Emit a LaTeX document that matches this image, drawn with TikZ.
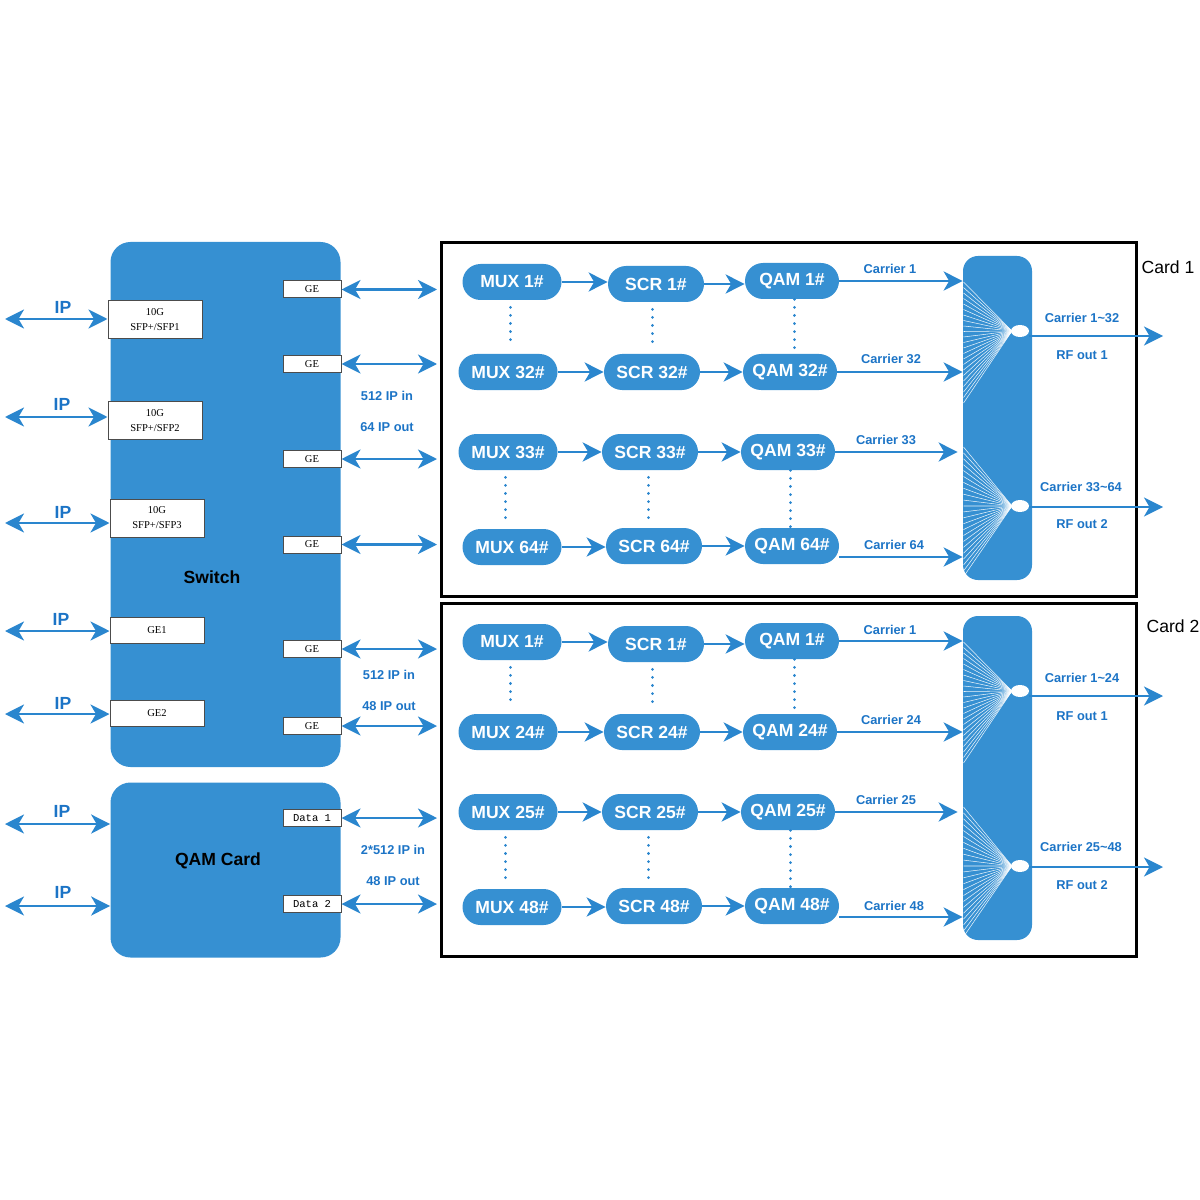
\documentclass[tikz,border=0pt]{standalone}
\usepackage{fontspec}
\setmainfont{Liberation Sans}
\newfontfamily\portfont{Liberation Serif}
\newfontfamily\datafont{Liberation Mono}
\usetikzlibrary{arrows.meta,shapes.geometric}
\definecolor{boxblue}{RGB}{54,144,210}
\definecolor{lineblue}{RGB}{42,134,206}
\definecolor{textblue}{RGB}{28,116,198}
\tikzset{
	>={Stealth[length=3.8mm,width=3.8mm,inset=1.1mm]},
	cardbox/.style={fill=boxblue, rounded corners=4mm, minimum width=46mm, inner sep=0pt},
	block/.style={fill=boxblue, rounded corners=3.6mm, minimum height=7.2mm, inner sep=0pt, text=white, font=\fontsize{10}{12}\selectfont\bfseries},
	muxblock/.style={block, minimum width=19.8mm},
	scrblock/.style={block, minimum width=19.2mm},
	qamblock/.style={block, minimum width=18.8mm},
	port/.style={draw=black!70, line width=0.2mm, fill=white, inner sep=0pt, align=center, font=\portfont\fontsize{6}{8.5}\selectfont},
	sfpport/.style={port, minimum width=18.8mm, minimum height=7.6mm},
	geport/.style={port, minimum width=18.8mm, minimum height=5.2mm},
	gesmall/.style={port, minimum width=11.6mm, minimum height=3.4mm},
	sig/.style={draw=lineblue, line width=0.5mm, ->},
	bisig/.style={draw=lineblue, line width=0.5mm, <->},
	vdots/.style={draw=lineblue, line width=0.6mm, line cap=round, dash pattern=on 0.01mm off 1.6mm},
	lbl/.style={text=textblue, font=\fontsize{7.3}{8}\selectfont\bfseries},
	iplbl/.style={text=textblue, font=\fontsize{10}{12}\selectfont\bfseries},
	title/.style={text=black, font=\fontsize{10}{12}\selectfont\bfseries},
	cardlbl/.style={text=black, font=\fontsize{10}{12}\selectfont},
	frame/.style={draw=black, line width=0.6mm, minimum width=139mm, minimum height=70.6mm, inner sep=0pt},
	combiner/.style={fill=boxblue, rounded corners=3mm, minimum width=13.8mm, minimum height=64.8mm, inner sep=0pt},
	outlet/.style={ellipse, fill=white, minimum width=3.6mm, minimum height=2.4mm, inner sep=0pt},
	fan/.style={draw=white, line width=0.3pt, opacity=0.9}
}

\begin{document}
\begin{tikzpicture}[x=0.2mm, y=-0.2mm]
			%%%%% START %%%%%
			\useasboundingbox (0,0) rectangle (1200,1200);
			
			% switch and qam card
			\node[cardbox, minimum height=105mm] (switch) at (225.5,504.5) {};
			\node[title] (switchlbl) at (212,577) {Switch};
			\node[cardbox, minimum height=35mm] (qamcard) at (225.5,870) {};
			\node[title] (qamcardlbl) at (218,861) {QAM Card};
			
			% input ports
			\node[sfpport] (sfp1) at (155,319.5) {10G\\SFP+/SFP1};
			\node[sfpport] (sfp2) at (155,420.5) {10G\\SFP+/SFP2};
			\node[sfpport] (sfp3) at (157,518) {10G\\SFP+/SFP3};
			\node[geport] (ge1) at (157,630) {GE1};
			\node[geport] (ge2) at (157,713.5) {GE2};
			
			\coordinate (ipa) at (5,319);
			\coordinate (ipb) at (5,417);
			\coordinate (ipc) at (5,523);
			\coordinate (ipd) at (5,631);
			\coordinate (ipe) at (5,714);
			\coordinate (ipf) at (5,824);
			\coordinate (ipg) at (5,906);
			\draw[bisig] (ipa) -- (ipa -| sfp1.west);
			\draw[bisig] (ipb) -- (ipb -| sfp2.west);
			\draw[bisig] (ipc) -- (ipc -| sfp3.west);
			\draw[bisig] (ipd) -- (ipd -| ge1.west);
			\draw[bisig] (ipe) -- (ipe -| ge2.west);
			\draw[bisig] (ipf) -- (ipf -| qamcard.west);
			\draw[bisig] (ipg) -- (ipg -| qamcard.west);
			\node[iplbl] (ipla) at (63,307) {IP};
			\node[iplbl] (iplb) at (62,404) {IP};
			\node[iplbl] (iplc) at (63,512) {IP};
			\node[iplbl] (ipld) at (61,619) {IP};
			\node[iplbl] (iple) at (63,703) {IP};
			\node[iplbl] (iplf) at (62,811) {IP};
			\node[iplbl] (iplg) at (63,892) {IP};
			
			% output ports
			\node[gesmall] (gea) at (312,289.5) {GE};
			\node[gesmall] (geb) at (312,364) {GE};
			\node[gesmall] (gec) at (312,459) {GE};
			\node[gesmall] (ged) at (312,544.5) {GE};
			\node[gesmall] (gee) at (312,649) {GE};
			\node[gesmall] (gef) at (312,726) {GE};
			\node[gesmall, font=\datafont\fontsize{6}{7}\selectfont] (data1) at (312,818) {Data 1};
			\node[gesmall, font=\datafont\fontsize{6}{7}\selectfont] (data2) at (312,904) {Data 2};
			
			\coordinate (toa) at (437,289.5);
			\coordinate (tob) at (437,364);
			\coordinate (toc) at (437,459);
			\coordinate (tod) at (437,544.5);
			\coordinate (toe) at (437,649);
			\coordinate (tof) at (437,726);
			\coordinate (tog) at (437,818);
			\coordinate (toh) at (437,904);
			\draw[bisig] (gea) -- (toa);
			\draw[bisig] (geb) -- (tob);
			\draw[bisig] (gec) -- (toc);
			\draw[bisig] (ged) -- (tod);
			\draw[bisig] (gee) -- (toe);
			\draw[bisig] (gef) -- (tof);
			\draw[bisig] (data1) -- (tog);
			\draw[bisig] (data2) -- (toh);
			
			\node[lbl] (ina) at (387,396) {512 IP in};
			\node[lbl] (outa) at (387,427) {64 IP out};
			\node[lbl] (inb) at (389,675) {512 IP in};
			\node[lbl] (outb) at (389,706) {48 IP out};
			\node[lbl] (inc) at (393,850) {2*512 IP in};
			\node[lbl] (outc) at (393,881) {48 IP out};
			
			%%%%% CARD 1 %%%%%
			\node[frame] (card1) at (788.5,419.5) {};
			\node[cardlbl] (card1lbl) at (1168,267) {Card 1};
			
			\node[muxblock] (muxA) at (512,282) {MUX 1\#};
			\node[scrblock] (scrA) at (656,284) {SCR 1\#};
			\node[qamblock] (qamA) at (792,281) {QAM 1\#};
			\node[muxblock] (muxB) at (508,372) {MUX 32\#};
			\node[scrblock] (scrB) at (652,372) {SCR 32\#};
			\node[qamblock] (qamB) at (790,372) {QAM 32\#};
			\node[muxblock] (muxC) at (508,452) {MUX 33\#};
			\node[scrblock] (scrC) at (650,452) {SCR 33\#};
			\node[qamblock] (qamC) at (788,452) {QAM 33\#};
			\node[muxblock] (muxD) at (512,547) {MUX 64\#};
			\node[scrblock] (scrD) at (654,546) {SCR 64\#};
			\node[qamblock] (qamD) at (792,546) {QAM 64\#};
			
			\draw[sig] (muxA.east) -- (muxA.east -| scrA.west);
			\draw[sig] (scrA.east) -- (scrA.east -| qamA.west);
			\draw[sig] (muxB.east) -- (muxB.east -| scrB.west);
			\draw[sig] (scrB.east) -- (scrB.east -| qamB.west);
			\draw[sig] (muxC.east) -- (muxC.east -| scrC.west);
			\draw[sig] (scrC.east) -- (scrC.east -| qamC.west);
			\draw[sig] (muxD.east) -- (muxD.east -| scrD.west);
			\draw[sig] (scrD.east) -- (scrD.east -| qamD.west);
			
			\draw[vdots, shorten <=1.4mm, shorten >=1.4mm] ([xshift=-0.4mm]muxA.south) -- ([xshift=-0.4mm]muxA.south |- muxB.north);
			\draw[vdots, shorten <=1.4mm, shorten >=1.4mm] ([xshift=-0.8mm]scrA.south) -- ([xshift=-0.8mm]scrA.south |- scrB.north);
			\draw[vdots] ([xshift=0.4mm]qamA.south) -- ([xshift=0.4mm]qamA.south |- qamB.north);
			\draw[vdots, shorten <=1.4mm, shorten >=1.4mm] ([xshift=-0.6mm]muxC.south) -- ([xshift=-0.6mm]muxC.south |- muxD.north);
			\draw[vdots, shorten <=1.4mm, shorten >=1.4mm] ([xshift=-0.4mm]scrC.south) -- ([xshift=-0.4mm]scrC.south |- scrD.north);
			\draw[vdots] ([xshift=0.4mm]qamC.south) -- ([xshift=0.4mm]qamC.south |- qamD.north);
			
			\node[combiner] (comb1) at (997.5,418) {};
			\foreach \k in {0,...,22} \draw[fan] (1012,331) -- (963.5,{282+\k*5.5});
			\foreach \k in {0,...,22} \draw[fan] (1012,506) -- (963.5,{447+\k*5.9});
			\node[outlet] (out1a) at (1020,331) {};
			\node[outlet] (out1b) at (1020,506) {};
			
			\coordinate (cD) at ([yshift=-2.2mm]qamD.east);
			\draw[sig] (qamA.east) -- (qamA.east -| comb1.west);
			\draw[sig] (qamB.east) -- (qamB.east -| comb1.west);
			\draw[sig] (qamC.east) -- ([xshift=-1mm]qamC.east -| comb1.west);
			\draw[sig] (cD) -- (cD -| comb1.west);
			\node[lbl] (car1) at (890,269) {Carrier 1};
			\node[lbl] (car32) at (891,359) {Carrier 32};
			\node[lbl] (car33) at (886,440) {Carrier 33};
			\node[lbl] (car64) at (894,545) {Carrier 64};
			
			\coordinate (rf1a) at (1163,336);
			\coordinate (rf1b) at (1163,507);
			\draw[sig] (out1a.east |- rf1a) -- (rf1a);
			\draw[sig] (out1b.east |- rf1b) -- (rf1b);
			\node[lbl] (sum1a) at (1082,318) {Carrier 1\textasciitilde 32};
			\node[lbl] (rfl1a) at (1082,355) {RF out 1};
			\node[lbl] (sum1b) at (1081,487) {Carrier 33\textasciitilde 64};
			\node[lbl] (rfl1b) at (1082,524) {RF out 2};
			
			%%%%% CARD 2 %%%%%
			\node[frame] (card2) at (788.5,780) {};
			\node[cardlbl] (card2lbl) at (1173,626) {Card 2};
			
			\node[muxblock] (muxE) at (512,642) {MUX 1\#};
			\node[scrblock] (scrE) at (656,644) {SCR 1\#};
			\node[qamblock] (qamE) at (792,641) {QAM 1\#};
			\node[muxblock] (muxF) at (508,732) {MUX 24\#};
			\node[scrblock] (scrF) at (652,732) {SCR 24\#};
			\node[qamblock] (qamF) at (790,732) {QAM 24\#};
			\node[muxblock] (muxG) at (508,812) {MUX 25\#};
			\node[scrblock] (scrG) at (650,812) {SCR 25\#};
			\node[qamblock] (qamG) at (788,812) {QAM 25\#};
			\node[muxblock] (muxH) at (512,907) {MUX 48\#};
			\node[scrblock] (scrH) at (654,906) {SCR 48\#};
			\node[qamblock] (qamH) at (792,906) {QAM 48\#};
			
			\draw[sig] (muxE.east) -- (muxE.east -| scrE.west);
			\draw[sig] (scrE.east) -- (scrE.east -| qamE.west);
			\draw[sig] (muxF.east) -- (muxF.east -| scrF.west);
			\draw[sig] (scrF.east) -- (scrF.east -| qamF.west);
			\draw[sig] (muxG.east) -- (muxG.east -| scrG.west);
			\draw[sig] (scrG.east) -- (scrG.east -| qamG.west);
			\draw[sig] (muxH.east) -- (muxH.east -| scrH.west);
			\draw[sig] (scrH.east) -- (scrH.east -| qamH.west);
			
			\draw[vdots, shorten <=1.4mm, shorten >=1.4mm] ([xshift=-0.4mm]muxE.south) -- ([xshift=-0.4mm]muxE.south |- muxF.north);
			\draw[vdots, shorten <=1.4mm, shorten >=1.4mm] ([xshift=-0.8mm]scrE.south) -- ([xshift=-0.8mm]scrE.south |- scrF.north);
			\draw[vdots] ([xshift=0.4mm]qamE.south) -- ([xshift=0.4mm]qamE.south |- qamF.north);
			\draw[vdots, shorten <=1.4mm, shorten >=1.4mm] ([xshift=-0.6mm]muxG.south) -- ([xshift=-0.6mm]muxG.south |- muxH.north);
			\draw[vdots, shorten <=1.4mm, shorten >=1.4mm] ([xshift=-0.4mm]scrG.south) -- ([xshift=-0.4mm]scrG.south |- scrH.north);
			\draw[vdots] ([xshift=0.4mm]qamG.south) -- ([xshift=0.4mm]qamG.south |- qamH.north);
			
			\node[combiner] (comb2) at (997.5,778) {};
			\foreach \k in {0,...,22} \draw[fan] (1012,691) -- (963.5,{642+\k*5.5});
			\foreach \k in {0,...,22} \draw[fan] (1012,866) -- (963.5,{807+\k*5.9});
			\node[outlet] (out2a) at (1020,691) {};
			\node[outlet] (out2b) at (1020,866) {};
			
			\coordinate (cH) at ([yshift=-2.2mm]qamH.east);
			\draw[sig] (qamE.east) -- (qamE.east -| comb2.west);
			\draw[sig] (qamF.east) -- (qamF.east -| comb2.west);
			\draw[sig] (qamG.east) -- ([xshift=-1mm]qamG.east -| comb2.west);
			\draw[sig] (cH) -- (cH -| comb2.west);
			\node[lbl] (car1b) at (890,630) {Carrier 1};
			\node[lbl] (car24) at (891,720) {Carrier 24};
			\node[lbl] (car25) at (886,800) {Carrier 25};
			\node[lbl] (car48) at (894,906) {Carrier 48};
			
			\coordinate (rf2a) at (1163,696);
			\coordinate (rf2b) at (1163,867);
			\draw[sig] (out2a.east |- rf2a) -- (rf2a);
			\draw[sig] (out2b.east |- rf2b) -- (rf2b);
			\node[lbl] (sum2a) at (1082,678) {Carrier 1\textasciitilde 24};
			\node[lbl] (rfl2a) at (1082,716) {RF out 1};
			\node[lbl] (sum2b) at (1081,847) {Carrier 25\textasciitilde 48};
			\node[lbl] (rfl2b) at (1082,885) {RF out 2};
			
			%%%%% END %%%%%
\end{tikzpicture}
\end{document}
